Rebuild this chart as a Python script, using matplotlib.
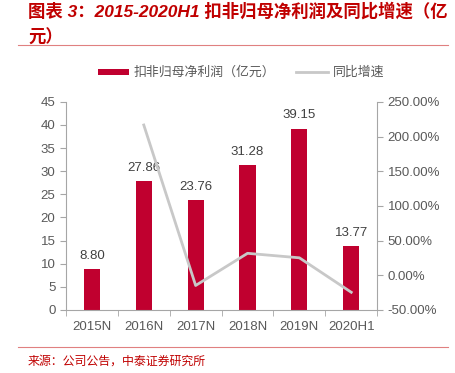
import matplotlib
matplotlib.use("Agg")
import matplotlib.pyplot as plt
from matplotlib.lines import Line2D
from matplotlib.patches import Rectangle

categories = ["2015N", "2016N", "2017N", "2018N", "2019N", "2020H1"]
profit = [8.80, 27.86, 23.76, 31.28, 39.15, 13.77]
growth = [None, 216.59, -14.72, 31.65, 25.16, -24.5]
left_ticks = [0, 5, 10, 15, 20, 25, 30, 35, 40, 45]
right_ticks = [-50, 0, 50, 100, 150, 200, 250]

plt.rcParams['font.family'] = ['Liberation Sans', 'Noto Sans CJK SC', 'DejaVu Sans']
CJK = ['Noto Sans CJK SC', 'DejaVu Sans']
RED = "#C0002F"
GRAY_LINE = "#C8C8C8"
TXT = "#595959"
AX = "#A6A6A6"

fig = plt.figure(figsize=(4.55, 3.73), dpi=100)
ax = fig.add_axes([0.145, 0.169, 0.684, 0.558])
ax2 = ax.twinx()

x = list(range(len(categories)))
ax.bar(x, profit, width=0.31, color=RED, zorder=2)
for xi, v in zip(x, profit):
    ax.text(xi, v + 1.6, f"{v:.2f}", ha="center", va="bottom", fontsize=9.5, color="#404040")

gx = [xi for xi, g in zip(x, growth) if g is not None]
gy = [g for g in growth if g is not None]
ax2.plot(gx, gy, color=GRAY_LINE, lw=2, zorder=3)

ax.set_xlim(-0.5, len(categories) - 0.5)
ax.set_ylim(0, 45)
ax.set_yticks(left_ticks)
ax2.set_ylim(-50, 250)
ax2.set_yticks(right_ticks)
ax2.set_yticklabels([f"{t:.2f}%" for t in right_ticks])

ax.set_xticks(x)
ax.set_xticklabels(categories)
ax.set_xticks([i + 0.5 for i in range(-1, len(categories))], minor=True)
ax.tick_params(axis="x", which="major", length=0, labelsize=9.5, labelcolor=TXT, pad=8)
ax.tick_params(axis="x", which="minor", length=4, color=AX, direction="out")
ax.tick_params(axis="y", length=4, color=AX, labelsize=9.5, labelcolor=TXT)
ax2.tick_params(axis="y", length=4, color=AX, labelsize=9.5, labelcolor=TXT)

for a in (ax, ax2):
    a.spines["top"].set_visible(False)
    a.spines["left"].set_color(AX)
    a.spines["right"].set_color(AX)
    a.spines["bottom"].set_color(AX)
ax.spines["right"].set_visible(False)
ax2.spines["left"].set_visible(False)
ax2.spines["bottom"].set_visible(False)

# Title
fig.text(28 / 455, 1 - 2 / 373, "图表 3：2015-2020H1 扣非归母净利润及同比增速（亿\n元）",
         family=['Liberation Sans', 'Noto Sans CJK SC'], fontsize=12.5, fontweight="bold",
         color="#C00000", style="italic",
         ha="left", va="top", linespacing=1.6)
fig.add_artist(Line2D([18 / 455, 448 / 455], [1 - 45 / 373, 1 - 45 / 373],
                      color="#E08080", lw=0.8))

# Legend
ly = 1 - 72 / 373
fig.add_artist(Rectangle((98 / 455, ly - 3 / 373), 31 / 455, 6 / 373, color=RED, lw=0))
fig.text(134 / 455, ly, "扣非归母净利润（亿元）", family=CJK, fontsize=9.3, color=TXT,
         ha="left", va="center")
fig.add_artist(Line2D([296 / 455, 328 / 455], [ly, ly], color=GRAY_LINE, lw=2))
fig.text(333 / 455, ly, "同比增速", family=CJK, fontsize=9.3, color=TXT,
         ha="left", va="center")

# Footer
fig.add_artist(Line2D([18 / 455, 448 / 455], [1 - 347 / 373, 1 - 347 / 373],
                      color="#E08080", lw=0.8))
fig.text(28 / 455, 1 - 361 / 373, "来源：公司公告，中泰证券研究所", family=CJK,
         fontsize=8.6, color="#C00000", ha="left", va="center")

fig.savefig("out.png", dpi=100)
